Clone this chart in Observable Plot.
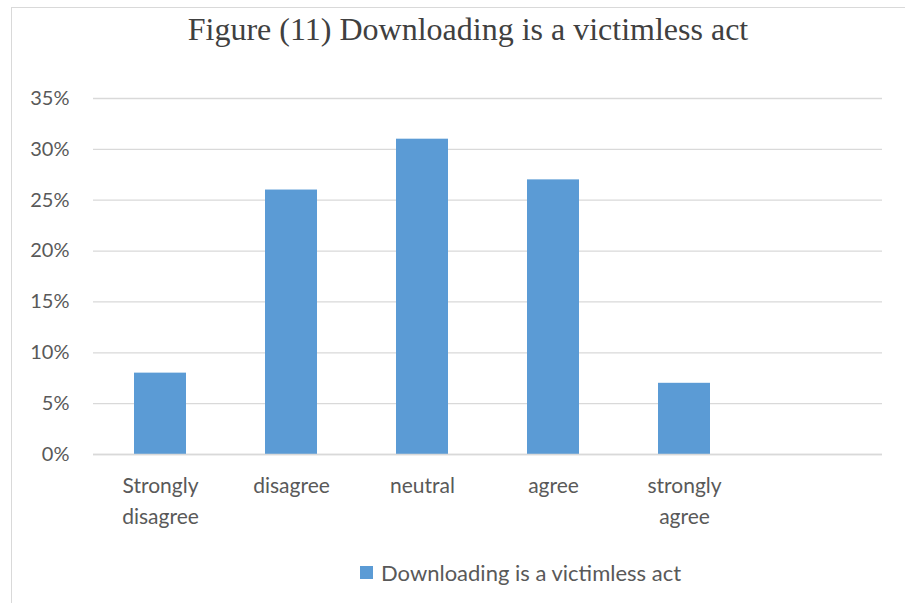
<!DOCTYPE html>
<html>
<head>
<meta charset="utf-8">
<script src="https://cdn.jsdelivr.net/npm/d3@7"></script>
<script src="https://cdn.jsdelivr.net/npm/@observablehq/plot@0.6"></script>
<style>
  html, body { margin: 0; padding: 0; background: #fff; overflow: hidden; width: 905px; height: 603px; }
  #wrap { position: relative; width: 905px; height: 603px; }
  #frame { position: absolute; left: 11px; top: 7px; width: 1000px; height: 700px; border: 1px solid #d9d9d9; box-sizing: border-box; }
  #title { position: absolute; left: 0; width: 936px; top: 11px; text-align: center; font-family: "Liberation Serif", "Times New Roman", serif; font-size: 32px; color: #404040; }
  #chart { position: absolute; left: 0; top: 0; }
  #legend { position: absolute; left: 360px; top: 559px; font-family: Lato, "Open Sans", sans-serif; font-size: 22px; color: #595959; display: flex; align-items: center; }
  #legend .sw { width: 13px; height: 13px; background: #5b9bd5; margin-right: 8px; }
</style>
</head>
<body>
<div id="wrap">
  <div id="frame"></div>
  <div id="title">Figure (11) Downloading is a victimless act</div>
  <div id="chart"></div>
  <div id="legend"><span class="sw"></span><span id="legendText"></span></div>
</div>
<script>
// Survey responses (percent of respondents)
const categories = ["Strongly disagree", "disagree", "neutral", "agree", "strongly agree"];
const tickLabels = ["Strongly\ndisagree", "disagree", "neutral", "agree", "strongly\nagree"];
const values = [8, 26, 31, 27, 7];
const yTicks = [0, 5, 10, 15, 20, 25, 30, 35];
const seriesName = "Downloading is a victimless act";

const data = categories.map((c, i) => ({category: c, value: values[i]}));
const labelOf = new Map(categories.map((c, i) => [c, tickLabels[i]]));
// an empty trailing slot keeps the category axis six bands wide
const xDomain = [...categories, ""];

const chart = Plot.plot({
  width: 905,
  height: 603,
  marginTop: 98,
  marginBottom: 149,
  marginLeft: 93,
  marginRight: 23,
  style: {fontFamily: "Lato, 'Open Sans', sans-serif", color: "#595959", background: "transparent"},
  x: {domain: xDomain, paddingInner: 0.6, paddingOuter: 0.3, label: null},
  y: {domain: [0, 35], label: null},
  marks: [
    Plot.gridY(yTicks, {stroke: "#d9d9d9", strokeOpacity: 1, strokeWidth: 1.3}),
    Plot.barY(data, {x: "category", y: "value", fill: "#5b9bd5"}),
    Plot.ruleY([0], {stroke: "#d9d9d9", strokeWidth: 1.3}),
    Plot.axisY(yTicks, {tickSize: 0, tickPadding: 24, fontSize: 20, fill: "#595959", tickFormat: d => d + "%", label: null}),
    Plot.axisX({tickSize: 0, tickPadding: 16, fontSize: 21, lineHeight: 1.48, fill: "#595959", textAnchor: "middle",
      tickFormat: d => labelOf.get(d) ?? "", label: null})
  ]
});
document.getElementById("chart").appendChild(chart);
document.getElementById("legendText").textContent = seriesName;
</script>
</body>
</html>
